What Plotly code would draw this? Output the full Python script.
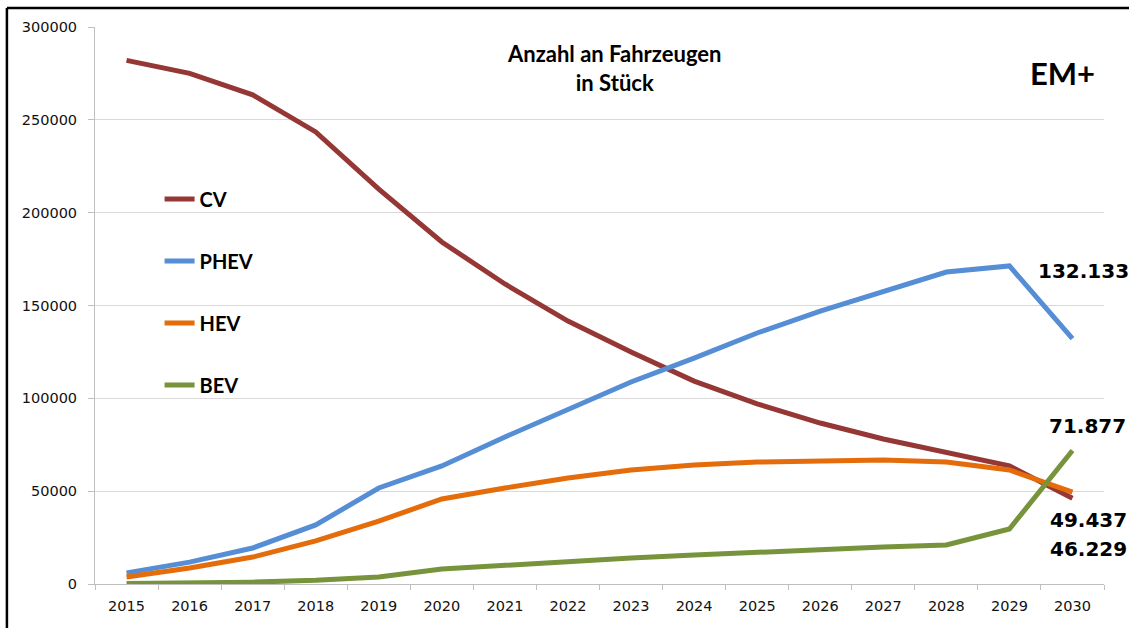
import plotly.graph_objects as go

years = [str(y) for y in range(2015, 2031)]
cv = [282000, 275000, 263500, 243500, 212700, 184200, 161600, 141600, 125000, 109300, 97000, 86700, 78100, 71100, 63600, 46229]
phev = [6000, 11800, 19400, 31800, 51700, 63600, 79200, 93700, 108800, 121700, 135200, 147000, 157300, 168000, 171300, 132133]
hev = [3800, 8600, 14500, 23200, 33900, 45800, 51700, 57100, 61400, 64100, 65700, 66200, 66800, 65700, 61400, 49437]
bev = [300, 600, 1000, 2000, 3800, 8100, 10200, 12400, 14000, 15600, 17200, 18300, 19900, 21000, 29600, 71877]

series = [("CV", cv, "#953735"), ("PHEV", phev, "#558ed5"), ("HEV", hev, "#e46c0a"), ("BEV", bev, "#77933c")]

fig = go.Figure()
for name, vals, col in series:
    fig.add_trace(go.Scatter(x=years, y=vals, mode="lines", name=f"<b>{name}</b>",
                             legendgroup=name,
                             line=dict(color=col, width=5)))

def de(v):
    return f"{v:,}".replace(",", ".")

last = len(years) - 1
label_font = dict(family="DejaVu Sans", size=20, color="black")
# end labels (xshift, yshift offsets)
labels = [(phev[-1], 11, 68), (bev[-1], 15, 25), (hev[-1], 16, -28), (cv[-1], 16, -51)]
for v, xs, ys in labels:
    fig.add_annotation(x=last, y=v, xref="x", yref="y", text=f"<b>{de(v)}</b>",
                       showarrow=False, xshift=xs, yshift=ys, font=label_font)

fig.add_annotation(x=0.514, y=0.9255, xref="paper", yref="paper", xanchor="center", yanchor="middle",
                   text="<b>Anzahl an Fahrzeugen<br>in Stück</b>", showarrow=False,
                   font=dict(family="Lato", size=22, color="black"), align="center")
fig.add_annotation(x=0.993, y=0.917, xref="paper", yref="paper", xanchor="right", yanchor="middle",
                   text="<b>EM+</b>", showarrow=False,
                   font=dict(family="Lato", size=31, color="black"))

# outer frame (left and top edges)
fig.add_shape(type="line", xref="paper", yref="paper", x0=-0.0873, x1=-0.0873, y0=-0.2, y1=1.034,
              line=dict(color="black", width=2.5))
fig.add_shape(type="line", xref="paper", yref="paper", x0=-0.0873, x1=1.1, y0=1.034, y1=1.034,
              line=dict(color="black", width=2.5))

fig.update_layout(
    width=1129, height=628,
    margin=dict(l=95, r=25, t=27, b=44, autoexpand=False),
    paper_bgcolor="white", plot_bgcolor="white",
    font=dict(family="DejaVu Sans", size=14, color="#222"),
    legend=dict(x=0.064, y=0.726, xanchor="left", yanchor="top",
                font=dict(family="Lato", size=20, color="black"),
                tracegroupgap=33, bgcolor="rgba(0,0,0,0)", itemwidth=30),
    showlegend=True,
)
fig.update_xaxes(type="category", range=[-0.5, last + 0.5], showgrid=False, showline=True,
                 linecolor="#bfbfbf", linewidth=1,
                 ticks="outside", ticklen=5, tickcolor="#bfbfbf", tickson="boundaries",
                 tickangle=0, ticklabelstandoff=9,
                 tickfont=dict(family="DejaVu Sans", size=14.5, color="#111"))
fig.update_yaxes(range=[0, 300000], dtick=50000, showgrid=True, gridcolor="#d9d9d9", gridwidth=1,
                 showline=True, linecolor="#bfbfbf", linewidth=1, ticks="outside", ticklen=6,
                 tickcolor="#bfbfbf", zeroline=False, tickformat="d", ticklabelstandoff=8,
                 tickfont=dict(family="DejaVu Sans", size=14.5, color="#111"))

fig.write_html("out.html", config={"displayModeBar": False},
               post_script="document.body.style.margin='0';document.body.style.padding='0';")
